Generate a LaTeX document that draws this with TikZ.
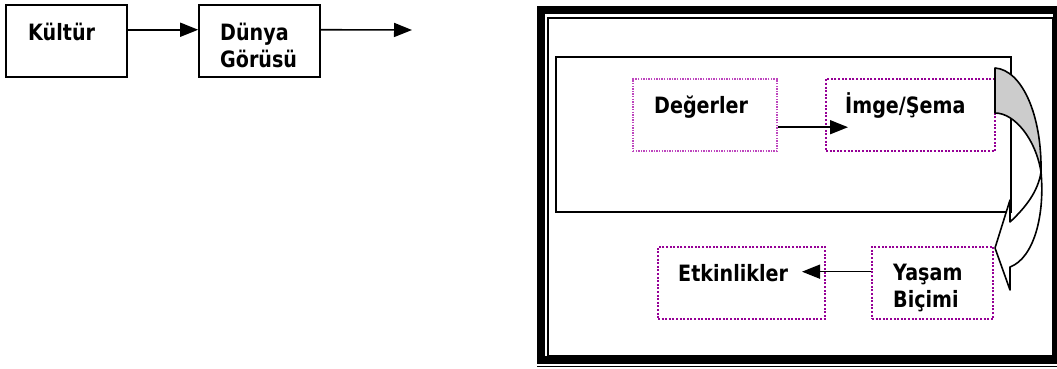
\documentclass[tikz,border=0pt]{standalone}
\usepackage{fontspec}
\newfontfamily\diafont{DejaVu Sans}[FakeStretch=0.85]
\usetikzlibrary{arrows.meta,calc}
\definecolor{dotpurple}{RGB}{150,0,150}
\definecolor{lightpurple}{RGB}{190,70,190}
\definecolor{backgrey}{RGB}{204,204,204}
\begin{document}
\begin{tikzpicture}[x=1pt,y=-1pt,
  solidbox/.style={draw,line width=1.6pt,rectangle,inner sep=0pt,minimum width=#1,minimum height=72pt},
  dotbox/.style={draw=dotpurple,line width=2pt,dash pattern=on 2pt off 1.6pt,rectangle,inner sep=0pt,minimum width=#1,minimum height=72pt},
  thindotbox/.style={draw=lightpurple,line width=1.1pt,dash pattern=on 1.4pt off 1.2pt,rectangle,inner sep=0pt,minimum width=#1,minimum height=72pt},
  lbl/.style={anchor=base west,inner sep=0pt,font=\diafont\bfseries\fontsize{22.5}{27}\selectfont},
  flow/.style={line width=1.6pt,-{Triangle[length=18pt,width=14pt]}},
  band/.style={draw,line width=1.6pt,line join=round}]
\useasboundingbox (0,0) rectangle (1057,369);

% top row
\node[solidbox=121pt] (kultur) at (66.5,41) {};
\node[solidbox=121pt] (dunya) at (259.5,41) {};
\node[lbl] (tkultur) at (28,41) {Kültür};
\node[lbl] (tdunya1) at (220,41) {Dünya};
\node[lbl] (tdunya2) at (220,67.5) {Görüsü};
\coordinate (out) at (412,30);
\draw[flow] ($(kultur.north east)!0.347!(kultur.south east)$) -- ($(dunya.north west)!0.347!(dunya.south west)$);
\draw[flow] ($(dunya.north east)!0.347!(dunya.south east)$) -- (out);

% framed panel
\draw[line width=8pt] (541,10) rectangle (1057,360);
\draw[line width=1.6pt] (548,18) rectangle (1053,356);
\draw[line width=1.6pt] (537,366.5) -- (1057,366.5);

\node[draw,line width=2pt,rectangle,inner sep=0pt,minimum width=455pt,minimum height=155pt] (panel) at (783.5,134.5) {};

\node[thindotbox=144pt] (deger) at (705,115) {};
\node[dotbox=169pt] (imge) at (910.5,115) {};
\node[dotbox=167pt] (etkin) at (741.5,283) {};
\node[dotbox=121pt] (yasam) at (932.5,283) {};

\node[lbl] (tdeger) at (654,113) {Değerler};
\node[lbl] (timge) at (845,113) {İmge/Şema};
\node[lbl] (tetkin) at (678,281) {Etkinlikler};
\node[lbl] (tyasam1) at (893,280) {Yaşam};
\node[lbl] (tyasam2) at (893,307) {Biçimi};

\draw[flow] ($(deger.north east)!0.667!(deger.south east)$) coordinate (d0)
  -- ([xshift=23pt]imge.west |- d0);
\draw[flow] ($(yasam.north west)!0.347!(yasam.south west)$) coordinate (y0)
  -- ([xshift=-24pt]etkin.east |- y0);

% curved ribbon arrow from the image box down to the way of life
\coordinate (t1) at (995,68);
\coordinate (t2) at (995,113);
\coordinate (cx) at (1041,172);
\coordinate (h1) at (1010,267);
\coordinate (h2) at (1010,290);
\coordinate (tip) at (995,248);
\coordinate (h3) at (1010,200);
\coordinate (h4) at (1010,222);
\draw[band,fill=backgrey] (t1) .. controls (1022,70) and (1042,115) .. (cx)
  .. controls (1036,140) and (1015,113) .. (t2) -- cycle;
\draw[band,fill=white] (cx) .. controls (1045,215) and (1034,258) .. (h1)
  -- (h2) -- (tip) -- (h3) -- (h4)
  .. controls (1025,208) and (1038,192) .. (cx) -- cycle;
\end{tikzpicture}
\end{document}
